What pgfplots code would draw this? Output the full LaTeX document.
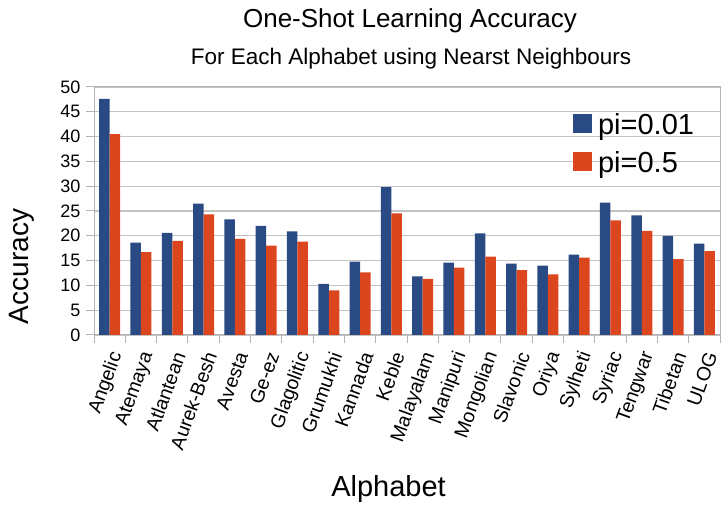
\documentclass[border=0pt]{standalone}
\usepackage{fontspec}
\setmainfont{Liberation Sans}
\usepackage{pgfplots}
\pgfplotsset{compat=1.18}
\usepackage{pgfplotstable}
\definecolor{cblue}{RGB}{42,74,132}
\definecolor{corange}{RGB}{220,70,30}
\definecolor{cgrid}{RGB}{195,195,195}
\definecolor{caxis}{RGB}{180,180,180}

\pgfplotstableread{
x name p001 p05
0 Angelic 47.6 40.5
1 Atemaya 18.6 16.7
2 Atlantean 20.6 19.0
3 Aurek-Besh 26.5 24.3
4 Avesta 23.3 19.4
5 Ge-ez 22.0 18.0
6 Glagolitic 20.9 18.8
7 Grumukhi 10.3 9.0
8 Kannada 14.8 12.6
9 Keble 29.8 24.5
10 Malayalam 11.8 11.3
11 Manipuri 14.6 13.6
12 Mongolian 20.5 15.8
13 Slavonic 14.4 13.1
14 Oriya 14.0 12.2
15 Sylheti 16.2 15.6
16 Syriac 26.7 23.1
17 Tengwar 24.1 21.0
18 Tibetan 20.0 15.3
19 ULOG 18.4 16.9
}\datatable

\begin{document}
\begin{tikzpicture}[x=1bp,y=1bp]
\path[use as bounding box] (0,0) rectangle (728,520);
\begin{axis}[
  at={(94bp,185bp)}, anchor=south west,
  scale only axis, width=626bp, height=248bp,
  xmin=-0.5, xmax=19.5, ymin=0, ymax=50,
  ybar=0pt, bar width=10.5bp,
  /pgf/number format/assume math mode=true,
  axis line style={draw=caxis, line width=1bp},
  ytick={0,5,...,50},
  ymajorgrids, major grid style={draw=cgrid, line width=1.1bp},
  tick align=outside, xtick pos=bottom, ytick pos=left,
  major tick length=8bp,
  tick style={draw=caxis, line width=1bp},
  yticklabel style={font=\fontsize{18bp}{20bp}\selectfont, xshift=-2bp},
  xtick={-0.5,0.5,...,19.5},
  xticklabels={,,},
  extra x ticks={0,1,...,19},
  extra x tick labels={Angelic,Atemaya,Atlantean,Aurek-Besh,Avesta,Ge-ez,Glagolitic,Grumukhi,Kannada,Keble,Malayalam,Manipuri,Mongolian,Slavonic,Oriya,Sylheti,Syriac,Tengwar,Tibetan,ULOG},
  extra x tick style={tick style={draw=none}, xticklabel style={font=\fontsize{19.5bp}{22bp}\selectfont, xshift=8bp, yshift=-8bp, rotate=70, anchor=east, inner sep=2bp}},
  xlabel={Alphabet},
  xlabel style={at={(axis description cs:0.4705,-0.653)}, anchor=base, font=\fontsize{29bp}{32bp}\selectfont},
  ylabel={Accuracy},
  ylabel style={at={(axis description cs:-0.1054,0.276)}, anchor=base, font=\fontsize{28bp}{32bp}\selectfont},
  legend style={draw=none, fill=none, inner sep=0pt, at={(axis description cs:0.765,0.895)}, anchor=north west,
    font=\fontsize{29bp}{32bp}\selectfont, row sep=16bp,
    nodes={inner sep=0pt},
    /tikz/every odd column/.append style={column sep=6bp}},
  legend cell align=left,
  legend image code/.code={\fill[#1] (0bp,-8.5bp) rectangle (19bp,10.5bp);},
]
\addplot[fill=cblue, draw=none] table[x=x, y=p001] {\datatable};
\addplot[fill=corange, draw=none] table[x=x, y=p05] {\datatable};
\legend{pi=0.01, pi=0.5}
\end{axis}
\node[anchor=base, font=\fontsize{26bp}{30bp}\selectfont] at (410,492) {One-Shot Learning Accuracy};
\node[anchor=base, font=\fontsize{22.5bp}{26bp}\selectfont] at (411,455) {For Each Alphabet using Nearst Neighbours};
\end{tikzpicture}
\end{document}
